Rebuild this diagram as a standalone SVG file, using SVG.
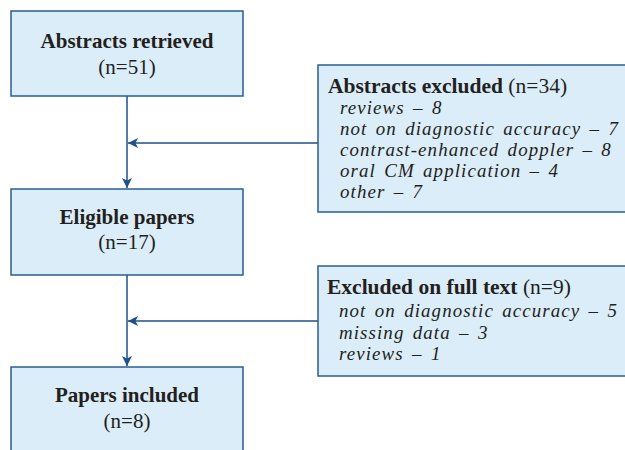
<svg xmlns="http://www.w3.org/2000/svg" width="625" height="450" viewBox="0 0 625 450">
<defs>
<style>
.box{fill:#dbedf8;stroke:#2a5d95;stroke-width:1.5}
.t{font-family:"Liberation Serif","Times New Roman",serif;font-size:21px;fill:#231f20}
.h{font-size:21.5px}
.b{font-weight:bold}
.i{font-style:italic;font-size:18.9px;letter-spacing:1.1px;word-spacing:2.5px}
.c{text-anchor:middle}
.ln{stroke:#1f4f8c;stroke-width:1.5;fill:none}
</style>
<marker id="ah" viewBox="0 0 10 10" refX="10" refY="5" markerWidth="10" markerHeight="10" markerUnits="userSpaceOnUse" orient="auto">
<path d="M0,0 L10,5 L0,10 L2.5,5 Z" fill="#1f4f8c"/>
</marker>
</defs>
<rect width="625" height="450" fill="#ffffff"/>
<g id="connectors">
<line class="ln" x1="127" y1="96" x2="127" y2="188" marker-end="url(#ah)"/>
<line class="ln" x1="318" y1="143" x2="128" y2="143" marker-end="url(#ah)"/>
<line class="ln" x1="127" y1="275" x2="127" y2="366" marker-end="url(#ah)"/>
<line class="ln" x1="318" y1="321" x2="128" y2="321" marker-end="url(#ah)"/>
</g>
<g id="abstracts-retrieved">
<rect class="box" x="11" y="11" width="232" height="85"/>
<text class="t b c" x="127" y="48">Abstracts retrieved</text>
<text class="t c" x="127" y="74">(n=51)</text>
</g>
<g id="abstracts-excluded">
<rect class="box" x="318" y="65" width="310" height="147"/>
<text class="t h" x="328" y="92.5"><tspan class="b">Abstracts excluded</tspan> (n=34)</text>
<text class="t i" x="340" y="114">reviews – 8</text>
<text class="t i" x="340" y="135">not on diagnostic accuracy – 7</text>
<text class="t i" x="340" y="156">contrast-enhanced doppler – 8</text>
<text class="t i" x="340" y="177">oral CM application – 4</text>
<text class="t i" x="340" y="198">other – 7</text>
</g>
<g id="eligible-papers">
<rect class="box" x="11" y="189" width="232" height="86"/>
<text class="t b c" x="127" y="224">Eligible papers</text>
<text class="t c" x="127" y="249">(n=17)</text>
</g>
<g id="excluded-full-text">
<rect class="box" x="318" y="266" width="310" height="110"/>
<text class="t h" x="327" y="294"><tspan class="b">Excluded on full text</tspan> (n=9)</text>
<text class="t i" x="339" y="317">not on diagnostic accuracy – 5</text>
<text class="t i" x="339" y="338.5">missing data – 3</text>
<text class="t i" x="339" y="360">reviews – 1</text>
</g>
<g id="papers-included">
<rect class="box" x="11" y="367" width="232" height="90"/>
<text class="t b c" x="127" y="402">Papers included</text>
<text class="t c" x="127" y="428">(n=8)</text>
</g>
</svg>
